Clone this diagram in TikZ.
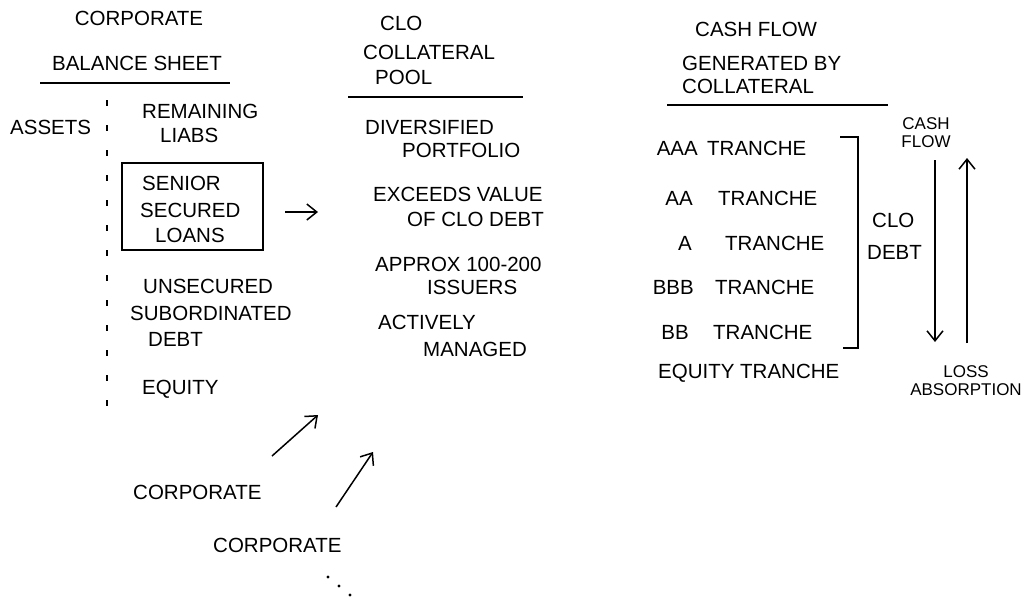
\documentclass[tikz,border=0pt]{standalone}
\usepackage{fontspec}
\setmainfont{Liberation Sans}
\usetikzlibrary{arrows.meta}
\tikzset{
  txt/.style={inner sep=0pt, font=\fontsize{20.5}{24}\selectfont},
  lbl/.style={inner sep=0pt, font=\fontsize{17}{18}\selectfont, align=center},
  rulel/.style={line width=1.8pt},
  pen/.style={line width=1.5pt},
  arr/.style={pen, -{Straight Barb[length=10pt,width=16pt]}},
  ticks/.style={line width=2pt, dash pattern=on 6pt off 19pt},
  framebox/.style={draw, line width=1.8pt, inner sep=0pt},
}
\begin{document}
\begin{tikzpicture}[x=1pt,y=-1pt]
\useasboundingbox (0,0) rectangle (1022,598);

% ---------- left column: corporate balance sheet ----------
\node[txt] (corp) at (139,18) {CORPORATE};
\node[txt] (bs) at (137,63) {BALANCE SHEET};
\draw[rulel] (40,83) -- (230,83);
\node[txt, anchor=west] (assets) at (10,127) {ASSETS};
\draw[ticks] (107,100) -- (107,410);
\node[txt, anchor=west] (rem1) at (142,111) {REMAINING};
\node[txt, anchor=west] (rem2) at (160,135) {LIABS};
\node[framebox, minimum width=141pt, minimum height=87pt] (box) at (192.5,206.5) {};
\node[txt, anchor=west] (ssl1) at (142,183) {SENIOR};
\node[txt, anchor=west] (ssl2) at (140,210) {SECURED};
\node[txt, anchor=west] (ssl3) at (155,235) {LOANS};
\coordinate (a0s) at (285,212);
\coordinate (a0e) at (318,212);
\draw[arr] (a0s) -- (a0e);
\node[txt, anchor=west] (uns1) at (143,286) {UNSECURED};
\node[txt, anchor=west] (uns2) at (130,313) {SUBORDINATED};
\node[txt, anchor=west] (uns3) at (148,339) {DEBT};
\node[txt, anchor=west] (eq) at (142,389) {EQUITY};

% ---------- other corporates ----------
\node[txt, anchor=west] (corpA) at (133,492) {CORPORATE};
\node[txt, anchor=west] (corpB) at (213,545) {CORPORATE};
\coordinate (a1s) at (272,456);
\coordinate (a1e) at (318,415);
\coordinate (a2s) at (336,507);
\coordinate (a2e) at (373,452);
\draw[arr] (a1s) -- (a1e);
\draw[arr] (a2s) -- (a2e);
\fill (328,577) circle (1.6pt) (339,586) circle (1.6pt) (350,595) circle (1.6pt);

% ---------- middle column: CLO collateral pool ----------
\node[txt, anchor=west] (clo1) at (380,23) {CLO};
\node[txt, anchor=west] (clo2) at (363,52) {COLLATERAL};
\node[txt, anchor=west] (clo3) at (375,77) {POOL};
\draw[rulel] (348,97) -- (523,97);
\node[txt, anchor=west] (m1a) at (365,127) {DIVERSIFIED};
\node[txt, anchor=west] (m1b) at (402,150) {PORTFOLIO};
\node[txt, anchor=west] (m2a) at (373,194) {EXCEEDS VALUE};
\node[txt, anchor=west] (m2b) at (407,219) {OF CLO DEBT};
\node[txt, anchor=west] (m3a) at (375,264) {APPROX 100-200};
\node[txt, anchor=west] (m3b) at (427,287) {ISSUERS};
\node[txt, anchor=west] (m4a) at (378,322) {ACTIVELY};
\node[txt, anchor=west] (m4b) at (423,349) {MANAGED};

% ---------- right column: cash flow ----------
\node[txt, anchor=west] (cf1) at (695,29) {CASH FLOW};
\node[txt, anchor=west] (cf2) at (682,63) {GENERATED BY};
\node[txt, anchor=west] (cf3) at (682,86) {COLLATERAL};
\draw[rulel] (667,105) -- (888,105);

\node[txt, anchor=east] (r1) at (698,148) {AAA};
\node[txt, anchor=west] (t1) at (707,148) {TRANCHE};
\node[txt, anchor=east] (r2) at (693,198) {AA};
\node[txt, anchor=west] (t2) at (718,198) {TRANCHE};
\node[txt, anchor=east] (r3) at (692,243) {A};
\node[txt, anchor=west] (t3) at (725,243) {TRANCHE};
\node[txt, anchor=east] (r4) at (694,287) {BBB};
\node[txt, anchor=west] (t4) at (715,287) {TRANCHE};
\node[txt, anchor=east] (r5) at (689,332) {BB};
\node[txt, anchor=west] (t5) at (713,332) {TRANCHE};
\node[txt, anchor=west] (t6) at (658,373) {EQUITY TRANCHE};

\draw[pen] (840,137) -- (858,137) -- (858,348) -- (843,348);
\node[txt, anchor=west] (cd1) at (872,220) {CLO};
\node[txt, anchor=west] (cd2) at (867,252) {DEBT};

\node[lbl] (cflow) at (926,133) {CASH\\FLOW};
\node[lbl] (loss) at (966,381) {LOSS\\ABSORPTION};
\coordinate (d1) at (935,160);
\coordinate (d2) at (935,342);
\coordinate (u1) at (967,343);
\coordinate (u2) at (967,158);
\draw[arr] (d1) -- (d2);
\draw[arr] (u1) -- (u2);
\end{tikzpicture}
\end{document}
